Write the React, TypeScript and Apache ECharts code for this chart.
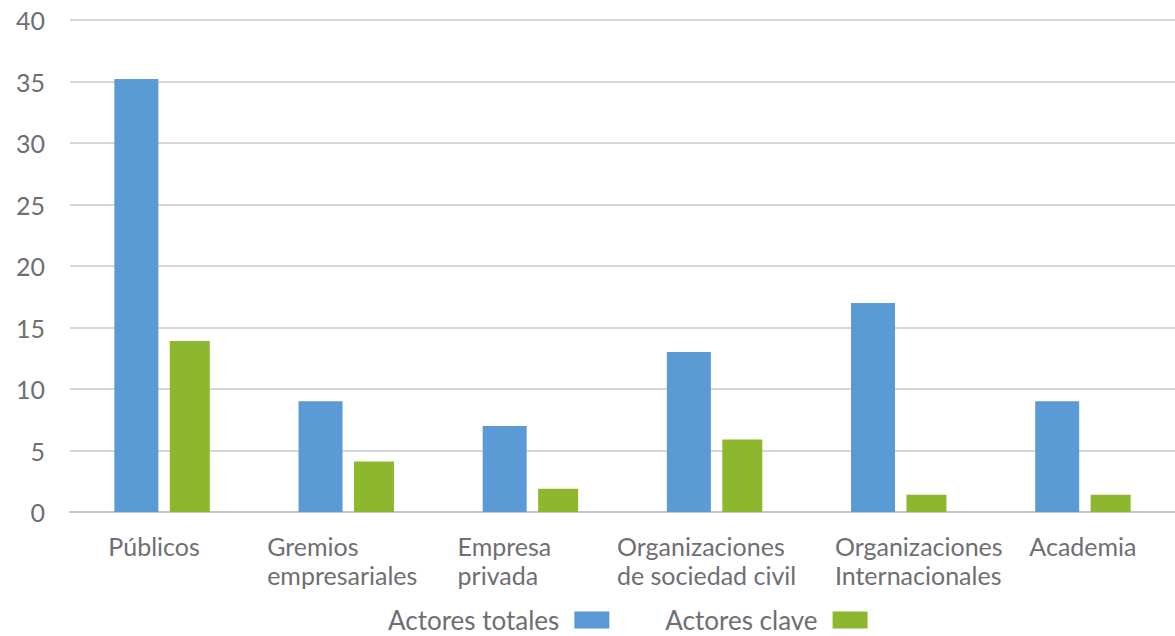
import React, { useEffect, useRef } from "react";
import * as echarts from "echarts";

const categories = [
  "Públicos",
  "Gremios\nempresariales",
  "Empresa\nprivada",
  "Organizaciones\nde sociedad civil",
  "Organizaciones\nInternacionales",
  "Academia",
];
const actoresTotales = [35.2, 9, 7, 13, 17, 9];
const actoresClave = [13.9, 4.1, 1.9, 5.9, 1.4, 1.4];
const seriesNames = ["Actores totales", "Actores clave"];

// horizontal shift of each category label (px), to mimic the reference placement
const labelShift = [-8, -4, -26, -8, 20, 0];

export default function App() {
  const ref = useRef<HTMLDivElement>(null);
  useEffect(() => {
    if (!ref.current) return;
    const chart = echarts.init(ref.current, undefined, { renderer: "svg" });
    const font = "Lato, 'Noto Sans', sans-serif";
    const textColor = "#6e6e73";
    const rich: Record<string, any> = {};
    labelShift.forEach((s, i) => {
      rich["l" + i] = {
        align: "left",
        fontSize: 25,
        lineHeight: 29,
        color: textColor,
        fontFamily: font,
        padding: s < 0 ? [0, -2 * s, 0, 0] : [0, 0, 0, 2 * s],
      };
    });
    chart.setOption({
      animation: false,
      textStyle: { fontFamily: font },
      grid: { left: 70, right: -8, top: 20, bottom: 124, containLabel: false },
      legend: {
        top: 602,
        left: 383,
        align: "right",
        itemWidth: 35,
        itemHeight: 17,
        itemGap: 56,
        icon: "rect",
        data: seriesNames,
        textStyle: {
          fontFamily: font,
          fontSize: 26,
          color: textColor,
          padding: [0, 10, 0, 0],
        },
      },
      xAxis: {
        type: "category",
        data: categories,
        axisLine: { lineStyle: { color: "#c4c4cc", width: 2 } },
        axisTick: { show: false },
        axisLabel: {
          interval: 0,
          margin: 19,
          color: textColor,
          fontSize: 25,
          lineHeight: 29,
          fontFamily: font,
          formatter: (v: string, i: number) =>
            v
              .split("\n")
              .map((line) => `{l${i}|${line}}`)
              .join("\n"),
          rich,
        },
      },
      yAxis: {
        type: "value",
        min: 0,
        max: 40,
        interval: 5,
        axisLine: { show: false },
        axisTick: { show: false },
        splitLine: { lineStyle: { color: "#c8c8d0", width: 1.5 } },
        axisLabel: { color: textColor, fontSize: 25, margin: 25, fontFamily: font },
      },
      series: [
        {
          name: seriesNames[0],
          type: "bar",
          data: actoresTotales,
          barWidth: 44,
          barGap: "26%",
          itemStyle: { color: "#5b9bd5" },
        },
        {
          name: seriesNames[1],
          type: "bar",
          data: actoresClave,
          barWidth: 40,
          itemStyle: { color: "#8cb72e" },
        },
      ],
    });
    return () => chart.dispose();
  }, []);
  return (
    <div
      ref={ref}
      style={{ position: "fixed", left: 0, top: 0, width: 1175, height: 636, background: "#fff" }}
    />
  );
}
